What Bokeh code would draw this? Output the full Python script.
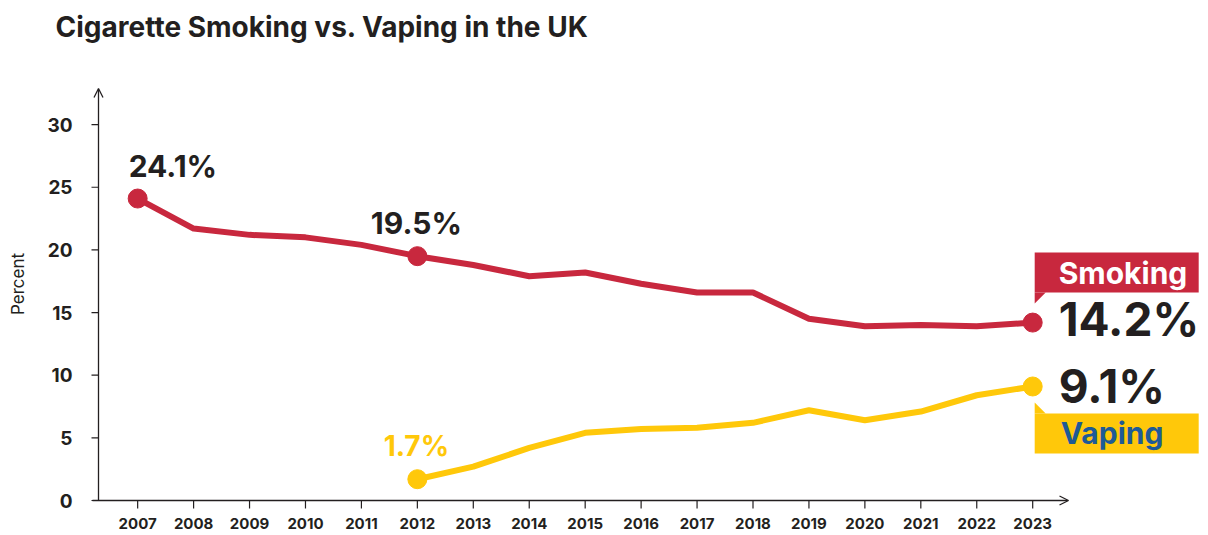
from bokeh.plotting import figure
from bokeh.models import Label, Arrow, OpenHead, FixedTicker, Range1d
from bokeh.embed import file_html
from bokeh.resources import INLINE

# ---- data ----
years = list(range(2007, 2024))
smoking = [24.1, 21.7, 21.2, 21.0, 20.4, 19.5, 18.8, 17.9, 18.2, 17.3, 16.6, 16.6, 14.5, 13.9, 14.0, 13.9, 14.2]
vape_years = list(range(2012, 2024))
vaping = [1.7, 2.7, 4.2, 5.4, 5.7, 5.8, 6.2, 7.2, 6.4, 7.1, 8.4, 9.1]
smoking_marked = [2007, 2012, 2023]
vaping_marked = [2012, 2023]
y_ticks = [0, 5, 10, 15, 20, 25, 30]
title_text = "Cigarette Smoking vs. Vaping in the UK"

RED = "#C8283E"
YELLOW = "#FFC80A"
BLUE = "#1E5A96"
DARK = "#231F20"
FONT = "Inter"

W, H = 1208, 535
LEFT, TOP, BOTTOM = 86, 50, 18
PPX, PPY = 55.94, 12.53          # pixel scale of the reference
x0 = 2006.30                      # where the y axis sits
x_start = x0 - 12 / PPX
x_end = x_start + (W - LEFT) / PPX
y_start = -17 / PPY
y_end = y_start + (H - TOP - BOTTOM) / PPY

p = figure(width=W, height=H, x_range=Range1d(x_start, x_end), y_range=Range1d(y_start, y_end),
           output_backend="svg", toolbar_location=None,
           min_border_left=LEFT, min_border_right=0, min_border_top=TOP, min_border_bottom=BOTTOM)
p.title.text = title_text
p.title.text_font = FONT
p.title.text_font_size = "28px"
p.title.text_font_style = "bold"
p.title.text_color = DARK
p.title.align = "left"
p.title.offset = 55 - LEFT
p.title.standoff = 14

p.grid.visible = False
p.outline_line_color = None
p.background_fill_color = "white"
p.border_fill_color = "white"

for ax in (p.xaxis[0], p.yaxis[0]):
    ax.axis_line_color = None
    ax.major_tick_line_color = None
    ax.major_tick_out = 0
    ax.major_tick_in = 0
    ax.minor_tick_line_color = None
    ax.major_label_text_font = FONT
    ax.major_label_text_font_style = "bold"
    ax.major_label_text_color = DARK

p.xaxis.ticker = FixedTicker(ticks=years)
p.xaxis.major_label_text_font_size = "15px"
p.xaxis.major_label_standoff = 0
p.yaxis.ticker = FixedTicker(ticks=y_ticks)
p.yaxis.major_label_text_font_size = "19px"
p.yaxis.major_label_standoff = 14
p.yaxis.axis_label = "Percent"
p.yaxis.axis_label_text_font = FONT
p.yaxis.axis_label_text_font_style = "normal"
p.yaxis.axis_label_text_font_size = "17px"
p.yaxis.axis_label_text_color = DARK
p.yaxis.axis_label_standoff = 16

# tick marks (inside the extended frame)
p.segment(x0=[x0 - 7 / PPX] * len(y_ticks), y0=y_ticks, x1=[x0] * len(y_ticks), y1=y_ticks,
          line_color=DARK, line_width=1.2)
p.segment(x0=years, y0=[0] * len(years), x1=years, y1=[-8 / PPY] * len(years),
          line_color=DARK, line_width=1.2)

# axis arrows
p.add_layout(Arrow(end=OpenHead(size=9, line_color=DARK, line_width=1.3),
                   x_start=x0, y_start=0, x_end=x0, y_end=412 / PPY,
                   line_color=DARK, line_width=1.3))
p.add_layout(Arrow(end=OpenHead(size=9, line_color=DARK, line_width=1.3),
                   x_start=x0 - 6 / PPX, y_start=0, x_end=2023.64, y_end=0,
                   line_color=DARK, line_width=1.3))

# lines
p.line(years, smoking, line_width=6, color=RED, line_join="round")
p.line(vape_years, vaping, line_width=6, color=YELLOW, line_join="round")
sm_y = [smoking[years.index(y)] for y in smoking_marked]
vp_y = [vaping[vape_years.index(y)] for y in vaping_marked]
p.scatter(smoking_marked, sm_y, size=19, color=RED)
p.scatter(vaping_marked, vp_y, size=19, color=YELLOW)

def lab(x, y, text, color, size, xo, yo, align="left"):
    p.add_layout(Label(x=x, y=y, text=text, text_color=color, text_font=FONT,
                       text_font_style="bold", text_font_size=size, x_offset=xo, y_offset=yo,
                       text_align=align, text_baseline="middle"))

lab(smoking_marked[0], sm_y[0], f"{sm_y[0]}%", DARK, "30px", -9, 33)
lab(smoking_marked[1], sm_y[1], f"{sm_y[1]}%", DARK, "30px", -1, 33, "center")
lab(vaping_marked[0], vp_y[0], f"{vp_y[0]}%", YELLOW, "28px", -1, 33, "center")
lab(smoking_marked[2], sm_y[2], f"{sm_y[2]}%", DARK, "46px", 26, 4)
lab(vaping_marked[1], vp_y[1], f"{vp_y[1]}%", DARK, "46px", 26, 0)

# end tags
lx, ly = smoking_marked[2], sm_y[2]
l0, l1 = lx + 2 / PPX, lx + 166 / PPX
sb, st = ly + 30 / PPY, ly + 70 / PPY
p.quad(left=[l0], right=[l1], bottom=[sb], top=[st], color=RED, line_color=None)
p.patch([l0, l0, l0 + 11 / PPX], [sb, sb - 11 / PPY, sb], color=RED, line_color=None)
lab(lx, ly, "Smoking", "white", "30px", 26, 50)

vx, vy = vaping_marked[1], vp_y[1]
vt, vb = vy - 27 / PPY, vy - 67 / PPY
p.quad(left=[l0], right=[l1], bottom=[vb], top=[vt], color=YELLOW, line_color=None)
p.patch([l0, l0, l0 + 11 / PPX], [vt, vt + 11 / PPY, vt], color=YELLOW, line_color=None)
lab(vx, vy, "Vaping", BLUE, "30px", 28, -47)

open("out.html", "w").write(file_html(p, INLINE))
